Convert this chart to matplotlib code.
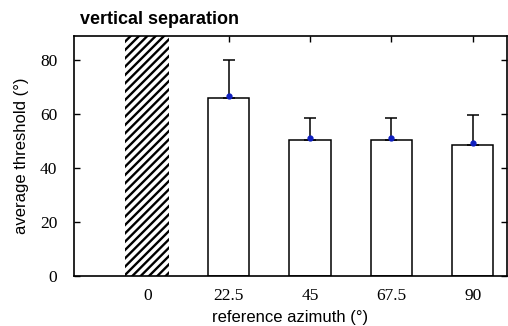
import numpy as np
import matplotlib
matplotlib.use('Agg')
import matplotlib.pyplot as plt

plt.rcParams['hatch.linewidth'] = 1.7

# data
azimuth_labels = ['0', '22.5', '45', '67.5', '90']
threshold = [90, 66, 50.5, 50.5, 48.5]
err_upper = [0, 14, 8, 8, 11]
y_ticks = [0, 20, 40, 60, 80]

x = np.arange(len(azimuth_labels))

fig = plt.figure(figsize=(5.08, 3.26), dpi=100)
ax = fig.add_axes([0.1457, 0.1534, 0.852, 0.7362])
ax.set_axisbelow(True)

# hatched bar at 0 (no threshold)
ax.bar(x[0], threshold[0], width=0.54, color='white', edgecolor='black',
       hatch='////', linewidth=0)
# open bars
ax.bar(x[1:], threshold[1:], width=0.51, color='white', edgecolor='black',
       linewidth=1.1)
ax.errorbar(x[1:], threshold[1:], yerr=[np.zeros(4), err_upper[1:]],
            fmt='none', ecolor='black', elinewidth=1.1, capsize=4, capthick=1.1)
ax.plot(x[1:], np.array(threshold[1:]) + 0.6, 'o', color='#1020c0', ms=3.5)

ax.set_xlim(-0.9, 4.42)
ax.set_ylim(0, 88.9)
ax.set_yticks(y_ticks)
ax.set_xticks(x)
ax.set_xticklabels(azimuth_labels, family='Liberation Serif', size=12.5)
ax.set_yticklabels([str(v) for v in y_ticks], family='Liberation Serif', size=12.5)
ax.tick_params(axis='y', direction='in', right=True, length=4, width=1, pad=12)
ax.tick_params(axis='x', direction='in', top=True, bottom=False, length=4,
               width=1, pad=9)
for s in ax.spines.values():
    s.set_linewidth(1.2)

ax.set_xlabel('reference azimuth (°)', family='Liberation Sans', size=12,
              labelpad=4)
ax.set_ylabel('average threshold (°)', family='Liberation Sans', size=12,
              labelpad=8)
fig.text(0.157, 0.915, 'vertical separation', family='Liberation Sans',
         weight='bold', size=13, ha='left', va='bottom')

fig.savefig('out.png', dpi=100)
